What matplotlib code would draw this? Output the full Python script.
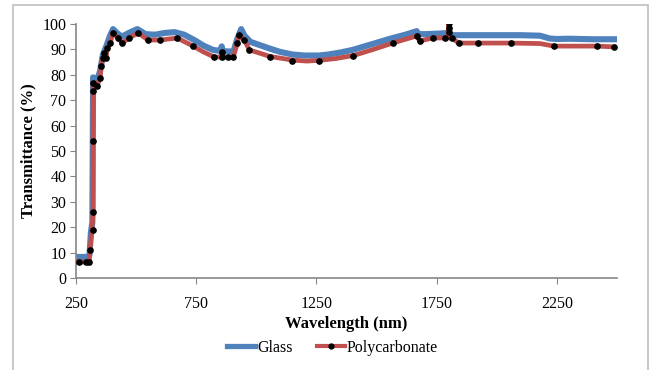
import matplotlib.pyplot as plt
import matplotlib.patches as patches
from matplotlib.lines import Line2D

plt.rcParams['font.family'] = ['Liberation Serif', 'DejaVu Serif']

# glass transmittance spectrum
glass_wl = [250, 300, 306, 312, 318, 321, 330, 340, 350, 362, 375, 390, 404, 420, 440,
            470, 505, 540, 580, 620, 660, 700, 740, 780, 820, 850, 856, 860, 880, 905,
            920, 937, 950, 975, 1020, 1060, 1100, 1150, 1200, 1260, 1300, 1350, 1400,
            1450, 1500, 1560, 1620, 1667, 1672, 1700, 1750, 1790, 1812, 1850, 1900,
            2000, 2100, 2180, 2220, 2250, 2300, 2400, 2500]
glass_t = [8.3, 8.3, 9, 18, 22, 79, 78.5, 78.5, 81.5, 88, 91, 95, 98, 96.5, 95,
           96.5, 98, 96, 95.8, 96.5, 96.8, 95.8, 93.8, 91.5, 89.8, 89.4, 91.2, 89.4, 89.2, 89.2,
           94, 98, 95.5, 93, 91.5, 90.2, 89, 88, 87.6, 87.6, 88, 88.8, 89.8,
           91.2, 92.6, 94.3, 95.8, 97.2, 96, 96, 96.2, 96.4, 95.6, 95.6, 95.6,
           95.6, 95.6, 95.4, 94.3, 94.1, 94.2, 94, 94]

# polycarbonate transmittance spectrum
poly_wl = [250, 262, 290, 305, 308, 316, 321, 321, 321, 321, 323, 337, 350, 355, 362,
           368, 375, 380, 392, 404, 425, 442, 471, 508, 550, 600, 671, 737, 780, 825,
           850, 858, 862, 883, 904, 921, 929, 950, 971, 1058, 1150, 1210, 1262, 1330,
           1404, 1480, 1567, 1667, 1679, 1733, 1783, 1796, 1800, 1804, 1812, 1842,
           1921, 2058, 2180, 2237, 2417, 2487, 2500]
poly_t = [6.3, 6.3, 6.3, 6.3, 11, 19, 26, 54, 73.6, 76.8, 76.8, 75.6, 78.7, 83.5, 86.6,
          88.6, 86.6, 90.5, 92.5, 96.5, 94.5, 92.5, 94.5, 96.5, 93.7, 93.7, 94.5, 91.3, 89, 87,
          87, 89, 87, 87, 87, 92.5, 95.7, 93.7, 89.8, 87.2, 85.8, 85.4, 85.7, 86.4,
          87.6, 89.8, 92.5, 95.3, 93.3, 94.5, 94.5, 94.5, 100.4, 94.5, 94.5, 92.5,
          92.5, 92.5, 92.3, 91.3, 91.3, 91, 90.8]

# measured points marked on the polycarbonate curve
dot_wl = [262, 291, 305, 308, 321, 321, 321, 321, 321, 337, 350, 355, 362, 368, 375,
          380, 392, 404, 425, 442, 471, 508, 550, 600, 671, 737, 825, 858, 858, 883,
          904, 921, 929, 950, 971, 1058, 1150, 1262, 1404, 1567, 1667, 1679, 1733,
          1783, 1800, 1800, 1800, 1812, 1842, 1921, 2058, 2237, 2417, 2487]
dot_t = [6.3, 6.3, 6.3, 11, 19, 26, 54, 73.6, 76.8, 75.6, 78.7, 83.5, 86.6, 88.6, 86.6,
         90.5, 92.5, 96.5, 94.5, 92.5, 94.5, 96.5, 93.7, 93.7, 94.5, 91.3, 87, 89, 87, 87,
         87, 92.5, 95.7, 93.7, 89.8, 87, 85.4, 85.4, 87.4, 92.5, 95.3, 93.3, 94.5,
         94.5, 96.9, 98.4, 100.4, 94.5, 92.5, 92.5, 92.5, 91.3, 91.3, 91]

x_ticks = [250, 750, 1250, 1750, 2250]
y_ticks = list(range(0, 101, 10))

blue = '#4F81BD'
red = '#C0504D'
grey = '#868686'

fig = plt.figure(figsize=(6.53, 3.70), dpi=100)
ax = fig.add_axes([0.1164, 0.2486, 0.8285, 0.6865])

ax.plot(glass_wl, glass_t, color=blue, lw=4.4, solid_joinstyle='round', zorder=2)
ax.plot(poly_wl, poly_t, color=red, lw=3.4, solid_joinstyle='round', zorder=3)
ax.plot(dot_wl, dot_t, 'o', color='black', ms=3.8, zorder=4)

ax.set_xlim(250, 2500)
ax.set_ylim(0, 100)
ax.set_xticks(x_ticks)
ax.set_yticks(y_ticks)
ax.tick_params(direction='out', length=4, color=grey, labelsize=11.5, pad=3)
ax.tick_params(axis='x', pad=9)
for side in ('top', 'right'):
    ax.spines[side].set_visible(False)
for side in ('left', 'bottom'):
    ax.spines[side].set_color(grey)
    ax.spines[side].set_linewidth(1.2)

ax.set_xlabel('Wavelength (nm)', fontsize=12, fontweight='bold', labelpad=3)
ax.set_ylabel('Transmittance (%)', fontsize=12, fontweight='bold', labelpad=4)

handles = [Line2D([], [], color=blue, lw=3.8),
           Line2D([], [], color=red, lw=3.0, marker='o', mfc='black', mec='black', ms=3.5)]
fig.legend(handles, ['Glass', 'Polycarbonate'], loc='center', bbox_to_anchor=(0.509, 0.06),
           ncol=2, frameon=False, fontsize=11.5, handlelength=1.8, handletextpad=0.1,
           columnspacing=1.5, borderaxespad=0)

# outer chart frame
fig.patches.append(patches.Rectangle((0.0199, -0.05), 0.9724, 1.0365, transform=fig.transFigure,
                                     fill=False, edgecolor='#BFBFBF', lw=1.2))

fig.savefig('out.png', dpi=100)
